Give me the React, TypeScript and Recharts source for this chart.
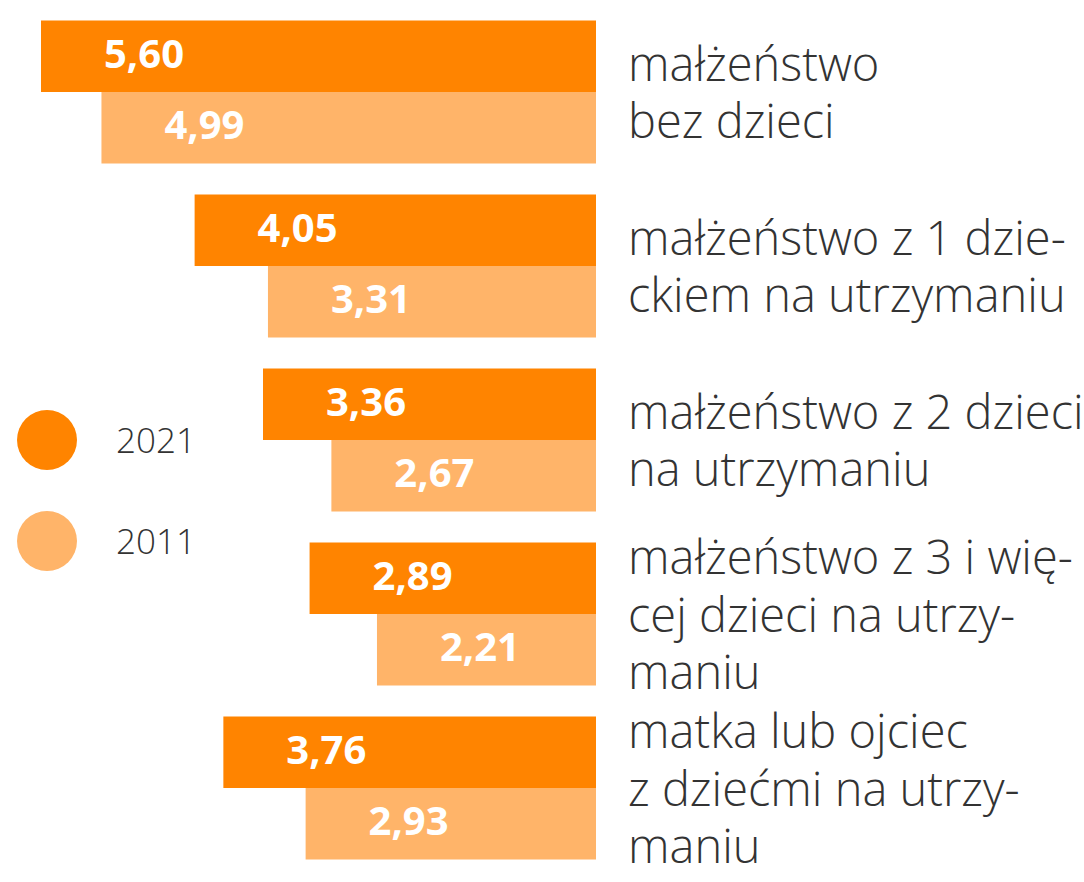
import { BarChart, Bar, XAxis, YAxis, Legend, LabelList } from 'recharts';

const categories = [
  'małżeństwo\nbez dzieci',
  'małżeństwo z 1 dzie-\nckiem na utrzymaniu',
  'małżeństwo z 2 dzieci\nna utrzymaniu',
  'małżeństwo z 3 i wię-\ncej dzieci na utrzy-\nmaniu',
  'matka lub ojciec\nz dziećmi na utrzy-\nmaniu',
];
const values2021 = [5.6, 4.05, 3.36, 2.89, 3.76];
const values2011 = [4.99, 3.31, 2.67, 2.21, 2.93];
const seriesNames = ['2021', '2011'];

const COLOR_2021 = '#ff8400';
const COLOR_2011 = '#ffb469';
const TEXT = '#333333';
const FONT = '"Open Sans", sans-serif';

const data = categories.map((name, i) => ({
  name,
  '2021': values2021[i],
  '2011': values2011[i],
}));

const fmt = (v: number) => v.toFixed(2).replace('.', ',');

const ValueLabel = (props: any) => {
  const { x, y, width, height, value } = props;
  const left = Math.min(x, x + width);
  return (
    <text
      x={left + 103}
      y={y + height / 2 + 11.5}
      textAnchor="middle"
      fill="#ffffff"
      fontFamily={FONT}
      fontWeight={700}
      fontSize={40}
    >
      {fmt(value)}
    </text>
  );
};

const CategoryTick = (props: any) => {
  const { x, y, payload } = props;
  const lines: string[] = String(payload.value).split('\n');
  const lh = 57.5;
  return (
    <text x={x} y={y} fill={TEXT} fontFamily={FONT} fontWeight={300} fontSize={47} textAnchor="start">
      {lines.map((l, i) => (
        <tspan key={i} x={x} y={y + 18 + (i - (lines.length - 1) / 2) * lh}>
          {l}
        </tspan>
      ))}
    </text>
  );
};

const LegendContent = () => (
  <svg width={200} height={170} style={{ overflow: 'visible' }}>
    {seriesNames.map((s, i) => (
      <g key={s}>
        <circle cx={47} cy={35 + i * 101} r={30} fill={i === 0 ? COLOR_2021 : COLOR_2011} />
        <text x={116} y={48 + i * 101} fill={TEXT} fontFamily={FONT} fontWeight={300} fontSize={35}>
          {s}
        </text>
      </g>
    ))}
  </svg>
);

export default function App() {
  return (
    <div style={{ position: 'absolute', left: 0, top: 0, background: '#fff' }}>
      <BarChart
        width={1084}
        height={882}
        data={data}
        layout="vertical"
        margin={{ top: 4.5, right: 0, bottom: 7.5, left: 41 }}
        barSize={71.5}
        barGap={0}
      >
        <XAxis type="number" domain={[0, 5.6]} reversed hide />
        <YAxis
          type="category"
          dataKey="name"
          orientation="right"
          width={488}
          axisLine={false}
          tickLine={false}
          tickSize={0}
          tickMargin={32}
          interval={0}
          tick={<CategoryTick />}
        />
        <Legend
          content={<LegendContent />}
          wrapperStyle={{ position: 'absolute', left: 0, top: 405, width: 200, height: 0, overflow: 'visible' }}
        />
        <Bar dataKey="2021" fill={COLOR_2021} isAnimationActive={false}>
          <LabelList dataKey="2021" content={<ValueLabel />} />
        </Bar>
        <Bar dataKey="2011" fill={COLOR_2011} isAnimationActive={false}>
          <LabelList dataKey="2011" content={<ValueLabel />} />
        </Bar>
      </BarChart>
    </div>
  );
}
